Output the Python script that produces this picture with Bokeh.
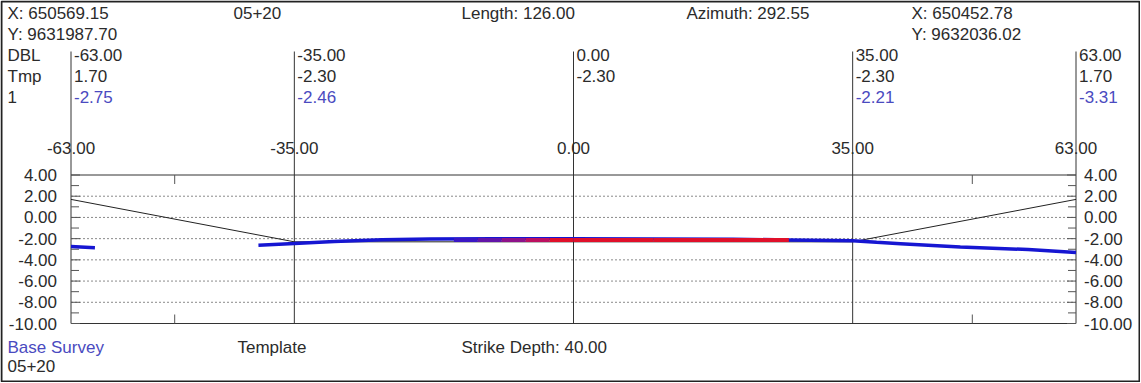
from bokeh.plotting import figure
from bokeh.models import Range1d
from bokeh.core.properties import value
from bokeh.embed import file_html
from bokeh.resources import INLINE

# ---------------- data ----------------
offsets = [-63, -35, 0, 35, 63]                       # DBL stations
template_row = [1.70, -2.30, -2.30, -2.30, 1.70]      # Tmp row
survey_row = [-2.75, -2.46, None, -2.21, -3.31]       # survey "1" row

template_x = [-63, -35, 35, 63]
template_y = [1.70, -2.30, -2.30, 1.70]

survey_left_x = [-63, -60]
survey_left_y = [-2.75, -2.85]
survey_x = [-39.5, -35, -30, -24, -18, -10, 0, 10, 20, 27, 35, 38, 41, 48.5, 57, 63]
survey_y = [-2.62, -2.46, -2.28, -2.10, -2.04, -2.02, -2.02, -2.03, -2.06, -2.12,
            -2.21, -2.35, -2.47, -2.79, -3.03, -3.31]

strike_x = [-15, -12, -9, -6, -3, 0, 10, 20, 27]
strike_y = [-2.13, -2.13, -2.13, -2.13, -2.13, -2.13, -2.13, -2.13, -2.13]

y_ticks = [4, 2, 0, -2, -4, -6, -8, -10]
y_minor = [3, 1, -1, -3, -5, -7, -9]
grid_ticks = [2, 0, -2, -4, -6, -8]
frame_ticks_x = [-50, 50]

row_names = ["DBL", "Tmp", "1"]
header_row1 = ["X: 650569.15", "05+20", "Length: 126.00", "Azimuth: 292.55", "X: 650452.78"]
header_row2 = ["Y: 9631987.70", "Y: 9632036.02"]
footer_row1 = ["Base Survey", "Template", "Strike Depth: 40.00"]
footer_row2 = ["05+20"]

# ---------------- geometry (pixel layout) ----------------
W, H = 1140, 382
X0_PX, X1_PX = 70.5, 1075.5          # pixel column of x=-63 and x=63
PPX = (X1_PX - X0_PX) / 126.0
Y4_PX, YM10_PX = 174.5, 323.0        # pixel row of y=4 and y=-10
PPY = (YM10_PX - Y4_PX) / 14.0


def xd(px):
    return -63 + (px - X0_PX) / PPX


def yd(py):
    return 4 - (py - Y4_PX) / PPY


FONT = value("Liberation Sans")
FS = value("17px")
TXT = "#2b2b2b"
BLUE_TXT = "#4a4ac0"
LINE = "#333333"

p = figure(width=W, height=H, output_backend="svg", toolbar_location=None,
           x_range=Range1d(xd(0), xd(W)), y_range=Range1d(yd(H), yd(0)),
           x_axis_location=None, y_axis_location=None,
           min_border_left=0, min_border_right=0, min_border_top=0, min_border_bottom=0)
p.outline_line_color = None
p.background_fill_color = "white"
p.border_fill_color = "white"
p.grid.visible = False

# outer border
p.quad(left=[xd(1)], right=[xd(W - 1)], top=[yd(1)], bottom=[yd(H - 1)],
       fill_color=None, line_color="#222222", line_width=2)

# grid lines
p.segment(x0=[offsets[0]] * len(grid_ticks), x1=[offsets[-1]] * len(grid_ticks),
          y0=grid_ticks, y1=grid_ticks, line_color="#8a8a8a", line_width=1, line_dash="2 2")

# frame and station lines
top_line = yd(51)
p.segment(x0=offsets, x1=offsets, y0=[y_ticks[-1]] * len(offsets), y1=[top_line] * len(offsets),
          line_color=LINE, line_width=1)
p.segment(x0=[offsets[0]] * 2, x1=[offsets[-1]] * 2, y0=[y_ticks[0], y_ticks[-1]],
          y1=[y_ticks[0], y_ticks[-1]], line_color=LINE, line_width=1)

# inward ticks on frame edges
maj_len = 9 / PPX
min_len = 8 / PPX
for edge, sgn in ((offsets[0], 1), (offsets[-1], -1)):
    p.segment(x0=[edge] * len(y_ticks), x1=[edge + sgn * maj_len] * len(y_ticks),
              y0=y_ticks, y1=y_ticks, line_color="#555555", line_width=1)
    p.segment(x0=[edge] * len(y_minor), x1=[edge + sgn * min_len] * len(y_minor),
              y0=y_minor, y1=y_minor, line_color="#555555", line_width=1)
tick_len = 9 / PPY
p.segment(x0=frame_ticks_x, x1=frame_ticks_x, y0=[y_ticks[0]] * 2, y1=[y_ticks[0] - tick_len] * 2,
          line_color="#555555", line_width=1)
p.segment(x0=frame_ticks_x, x1=frame_ticks_x, y0=[y_ticks[-1]] * 2, y1=[y_ticks[-1] + tick_len] * 2,
          line_color="#555555", line_width=1)

# y tick labels (both sides)
ylab = [f"{v:.2f}" for v in y_ticks]
p.text(x=[offsets[0]] * len(y_ticks), y=y_ticks, text=ylab, x_offset=-14,
       text_align="right", text_baseline="middle", text_font=FONT, text_font_size=FS,
       text_color=TXT)
p.text(x=[offsets[-1]] * len(y_ticks), y=y_ticks, text=ylab, x_offset=8,
       text_align="left", text_baseline="middle", text_font=FONT, text_font_size=FS,
       text_color=TXT)

# series
p.line(template_x, template_y, line_color="#222222", line_width=1)
p.line(survey_left_x, survey_left_y, line_color="#1616d2", line_width=3.5)
p.line(survey_x, survey_y, line_color="#1616d2", line_width=3.5)
strike_colors = ["#3a16c4", "#6214a8", "#8e128a", "#bc1060", "#e0102a", "#e0102a", "#e0102a", "#e0102a"]
p.segment(x0=strike_x[:-1], y0=strike_y[:-1], x1=strike_x[1:], y1=strike_y[1:],
          line_color=strike_colors, line_width=4)


def texts(xs, ys, ts, color=TXT, align="left", x_offset=0):
    p.text(x=xs, y=ys, text=ts, text_font=FONT, text_font_size=FS, text_color=color,
           text_align=align, text_baseline="middle", x_offset=x_offset)


row_y = [yd(12.5), yd(33.5), yd(54.5), yd(75.5), yd(96.5)]

# header
hx1 = [xd(px) for px in (7, 233, 461, 686, 911)]
texts(hx1, [row_y[0]] * len(header_row1), header_row1)
texts([xd(7), xd(911)], [row_y[1]] * 2, header_row2)

# table
texts([xd(7)] * 3, row_y[2:], row_names)
texts(offsets, [row_y[2]] * len(offsets), [f"{v:.2f}" for v in offsets], x_offset=3)
texts(offsets, [row_y[3]] * len(offsets), [f"{v:.2f}" for v in template_row], x_offset=3)
sx = [o for o, v in zip(offsets, survey_row) if v is not None]
sv = [f"{v:.2f}" for v in survey_row if v is not None]
texts(sx, [row_y[4]] * len(sx), sv, color=BLUE_TXT, x_offset=3)

# station labels above the frame
texts(offsets, [yd(147.5)] * len(offsets), [f"{v:.2f}" for v in offsets], align="center")

# footer
texts([xd(7)], [yd(346.5)], footer_row1[:1], color=BLUE_TXT)
texts([xd(237), xd(461)], [yd(346.5)] * 2, footer_row1[1:])
texts([xd(7)], [yd(365.5)], footer_row2)

open("out.html", "w").write(file_html(p, INLINE, "chart"))
